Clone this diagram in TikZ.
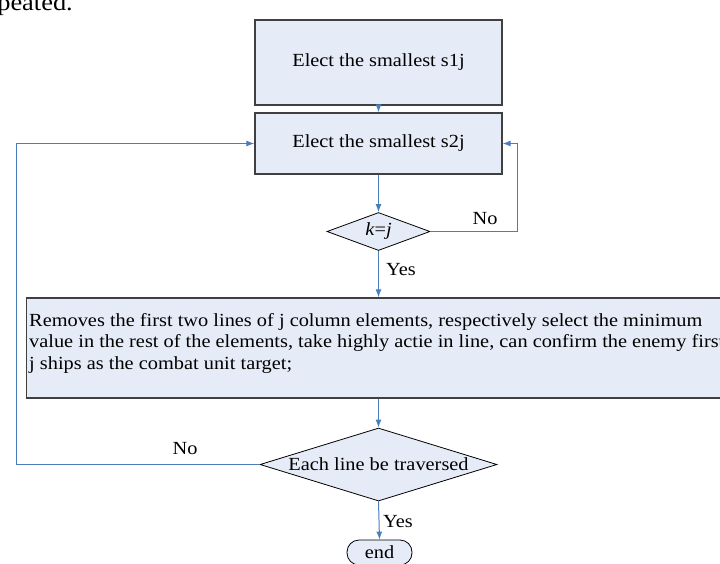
\documentclass[tikz,border=0pt]{standalone}
\usepackage{fontspec}
\setmainfont[FakeStretch=1.1]{Liberation Serif}
\usetikzlibrary{shapes.geometric,arrows.meta}
\definecolor{boxfill}{RGB}{230,236,247}
\definecolor{linkblue}{RGB}{74,126,187}
\definecolor{boxline}{RGB}{64,64,64}
\tikzset{
  procbox/.style={draw=boxline, line width=1.3pt, fill=boxfill, rectangle, inner sep=0pt},
  decbox/.style={draw=black, line width=0.8pt, fill=boxfill, diamond, inner sep=0pt},
  endbox/.style={draw=black, line width=0.8pt, fill=boxfill, rectangle, rounded corners=12pt, inner sep=0pt},
  link/.style={draw=linkblue, line width=1pt, -{Latex[length=8pt,width=6pt]}},
  lbl/.style={inner sep=0pt},
  every node/.style={font=\fontsize{18.5}{21.5}\selectfont}
}
\begin{document}
\begin{tikzpicture}[x=1pt,y=-1pt]
\useasboundingbox (0,0) rectangle (720,563);
\clip (0,0) rectangle (720,563);
\node[inner sep=0pt, anchor=base east, font=\fontsize{24}{28}\selectfont] (prev) at (73,10) {repeated.};
\node[procbox, minimum width=247pt, minimum height=85pt] (b1) at (378.5,62.5) {Elect the smallest s1j};
\node[procbox, minimum width=247pt, minimum height=61pt] (b2) at (378.5,143.5) {Elect the smallest s2j};
\node[decbox, minimum width=103pt, minimum height=38pt, aspect=2.7] (d1) at (378.5,231.5) {\textit{k}=\textit{j}};
\node[procbox, anchor=west, minimum width=720pt, minimum height=100pt] (b3) at (26,348) {};
\node[inner sep=0pt, anchor=north west, align=left] (b3t) at (29,313)
  {Removes the first two lines of j column elements, respectively select the minimum\\
   value in the rest of the elements, take highly actie in line, can confirm the enemy first\\
   j ships as the combat unit target;};
\node[decbox, minimum width=237pt, minimum height=73pt, aspect=3.25] (d2) at (378.5,464.5) {Each line be traversed};
\node[endbox, minimum width=65pt, minimum height=25pt] (e) at (379.5,552.5) {end};
\coordinate (r1) at (517,231.5);
\coordinate (r2) at (517,143.5);
\coordinate (l1) at (16,464.5);
\coordinate (l2) at (16,143.5);
\draw[link] (b1.south) -- (b2.north);
\draw[link] (b2.south) -- (d1.north);
\draw[link] (d1.east) -- (r1) -- (r2) -- (b2.east);
\draw[link] (d1.south) -- (b3.north -| d1.south);
\draw[link] (b3.south -| d2.north) -- (d2.north);
\draw[link] (d2.west) -- (l1) -- (l2) -- (b2.west);
\draw[link] (d2.south) -- (e.north);
\node[lbl] (no1) at (485,219) {No};
\node[lbl] (yes1) at (401,270) {Yes};
\node[lbl] (no2) at (185,449) {No};
\node[lbl] (yes2) at (398,522) {Yes};
\end{tikzpicture}
\end{document}
